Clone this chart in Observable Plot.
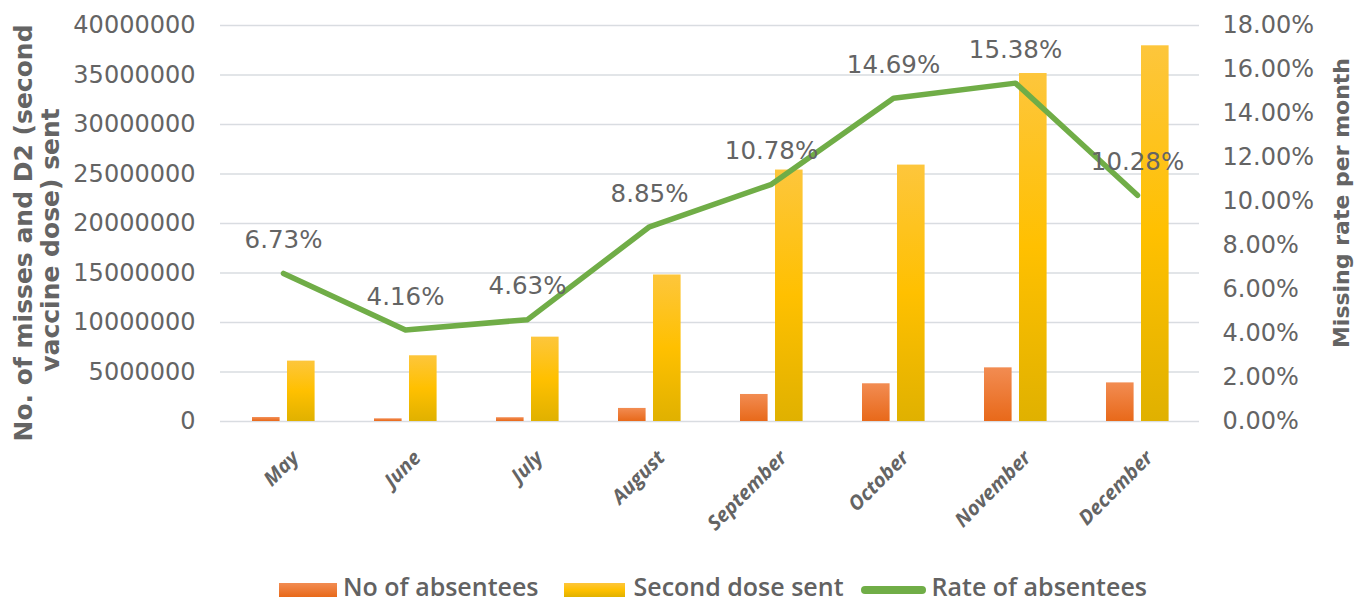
<!DOCTYPE html>
<html>
<head>
<meta charset="utf-8">
<script src="https://cdn.jsdelivr.net/npm/d3@7"></script>
<script src="https://cdn.jsdelivr.net/npm/@observablehq/plot@0.6"></script>
<style>
  html, body { margin: 0; padding: 0; background: #fff; }
  #wrap { position: relative; width: 1369px; height: 604px; }
  #legend { position: absolute; left: 279px; top: 569px; height: 34px; display: flex; align-items: center;
            font-family: "Open Sans", sans-serif; font-weight: 600; font-size: 25px; color: #626262; white-space: nowrap; }
  .sw { display: inline-block; height: 14px; }
  .lab { line-height: 34px; }
</style>
</head>
<body>
<div id="wrap">
  <div id="chart"></div>
  <div id="legend"></div>
</div>
<script>
const months = ["May", "June", "July", "August", "September", "October", "November", "December"];
const absentees = [400000, 270000, 380000, 1320000, 2730000, 3810000, 5420000, 3900000];
const secondDose = [6100000, 6640000, 8520000, 14800000, 25400000, 25900000, 35150000, 37950000];
const ratePct = [6.73, 4.16, 4.63, 8.85, 10.78, 14.69, 15.38, 10.28];
const leftTicks = [0, 5000000, 10000000, 15000000, 20000000, 25000000, 30000000, 35000000, 40000000];
const rightTicks = [0, 2, 4, 6, 8, 10, 12, 14, 16, 18];
const seriesNames = ["No of absentees", "Second dose sent", "Rate of absentees"];
const leftTitle = ["No. of misses and D2 (second", "vaccine dose) sent"];
const rightTitle = "Missing rate per month";

const yMax = 40000000, rMax = 18;
const toY = r => r / rMax * yMax;

const barsA = months.map((m, i) => ({month: m, value: absentees[i]}));
const barsB = months.map((m, i) => ({month: m, value: secondDose[i]}));
const rate = months.map((m, i) => ({month: m, rate: ratePct[i], y: toY(ratePct[i])}));

const grey = "#646464";

const chart = Plot.plot({
  width: 1369,
  height: 556,
  marginLeft: 220,
  marginRight: 170,
  marginTop: 25,
  marginBottom: 135,
  style: {fontFamily: "DejaVu Sans", fontSize: "24px", color: grey, background: "#fff", overflow: "visible"},
  x: {domain: months, padding: 0},
  y: {domain: [0, yMax]},
  marks: [
    Plot.ruleY(leftTicks, {stroke: "#d9dce1", strokeWidth: 1.3}),
    Plot.barY(barsA, {x: "month", y: "value", fill: "url(#gA)", insetLeft: 30, insetRight: 64.4,
      style: "filter: drop-shadow(1px 1px 2px rgba(0,0,0,0.22))"}),
    Plot.barY(barsB, {x: "month", y: "value", fill: "url(#gB)", insetLeft: 65, insetRight: 29.4,
      style: "filter: drop-shadow(1px 1px 2px rgba(0,0,0,0.22))"}),
    Plot.line(rate, {x: "month", y: "y", stroke: "#70ad47", strokeWidth: 5.5, strokeLinecap: "round", strokeLinejoin: "round",
      style: "filter: drop-shadow(1px 2px 2px rgba(0,0,0,0.25))"}),
    Plot.text(rate, {x: "month", y: "y", text: d => d.rate.toFixed(2) + "%", dy: -33, fill: grey,
      fontFamily: "DejaVu Sans", fontSize: 24.5}),
    Plot.axisY({ticks: leftTicks, tickFormat: d => String(d), tickSize: 0, tickPadding: 25, label: null,
      fontFamily: "DejaVu Sans", fontSize: 24, fill: grey}),
    Plot.axisY({anchor: "right", ticks: rightTicks.map(toY), tickFormat: d => (d / yMax * rMax).toFixed(2) + "%",
      tickSize: 0, tickPadding: 23, label: null, fontFamily: "DejaVu Sans", fontSize: 24, fill: grey}),
    Plot.axisX({tickRotate: -45, tickSize: 0, tickPadding: 33, dx: 12, label: null,
      fontFamily: "Open Sans", fontSize: 20, fontStyle: "italic", fontWeight: 700, fill: grey})
  ]
});

// gradients
const svg = d3.select(chart);
const defs = svg.insert("defs", ":first-child");
const gA = defs.append("linearGradient").attr("id", "gA").attr("x1", 0).attr("y1", 0).attr("x2", 0).attr("y2", 1);
gA.append("stop").attr("offset", "0%").attr("stop-color", "#f28c52");
gA.append("stop").attr("offset", "100%").attr("stop-color", "#e8691a");
const gB = defs.append("linearGradient").attr("id", "gB").attr("x1", 0).attr("y1", 0).attr("x2", 0).attr("y2", 1);
gB.append("stop").attr("offset", "0%").attr("stop-color", "#fdc63c");
gB.append("stop").attr("offset", "50%").attr("stop-color", "#ffc000");
gB.append("stop").attr("offset", "100%").attr("stop-color", "#e0b100");

// axis titles
const tl = svg.append("g").attr("font-family", "DejaVu Sans").attr("font-weight", "bold").attr("fill", grey).attr("text-anchor", "middle");
tl.append("text").attr("transform", "translate(32,233) rotate(-90)").attr("font-size", 25).text(leftTitle[0]);
tl.append("text").attr("transform", "translate(59,240) rotate(-90)").attr("font-size", 25).text(leftTitle[1]);
tl.append("text").attr("transform", "translate(1349,203) rotate(-90)").attr("font-size", 22).text(rightTitle);

document.getElementById("chart").appendChild(chart);

// legend
const legend = document.getElementById("legend");
const swatches = [
  {w: 58, h: 14, bg: "linear-gradient(#f28c52, #e8691a)", r: 0, gap: 6, after: 25},
  {w: 61, h: 14, bg: "linear-gradient(#fdc63c, #ffc000 50%, #e0b100)", r: 0, gap: 9, after: 17},
  {w: 65, h: 8, bg: "#70ad47", r: 4, gap: 6, after: 0}
];
seriesNames.forEach((name, i) => {
  const s = swatches[i];
  const sw = document.createElement("span");
  sw.className = "sw";
  sw.style.width = s.w + "px"; sw.style.height = s.h + "px"; sw.style.background = s.bg; sw.style.borderRadius = s.r + "px";
  sw.style.marginRight = s.gap + "px"; sw.style.marginTop = "8px";
  const lab = document.createElement("span");
  lab.className = "lab"; lab.textContent = name; lab.style.marginRight = s.after + "px";
  legend.appendChild(sw); legend.appendChild(lab);
});
</script>
</body>
</html>
